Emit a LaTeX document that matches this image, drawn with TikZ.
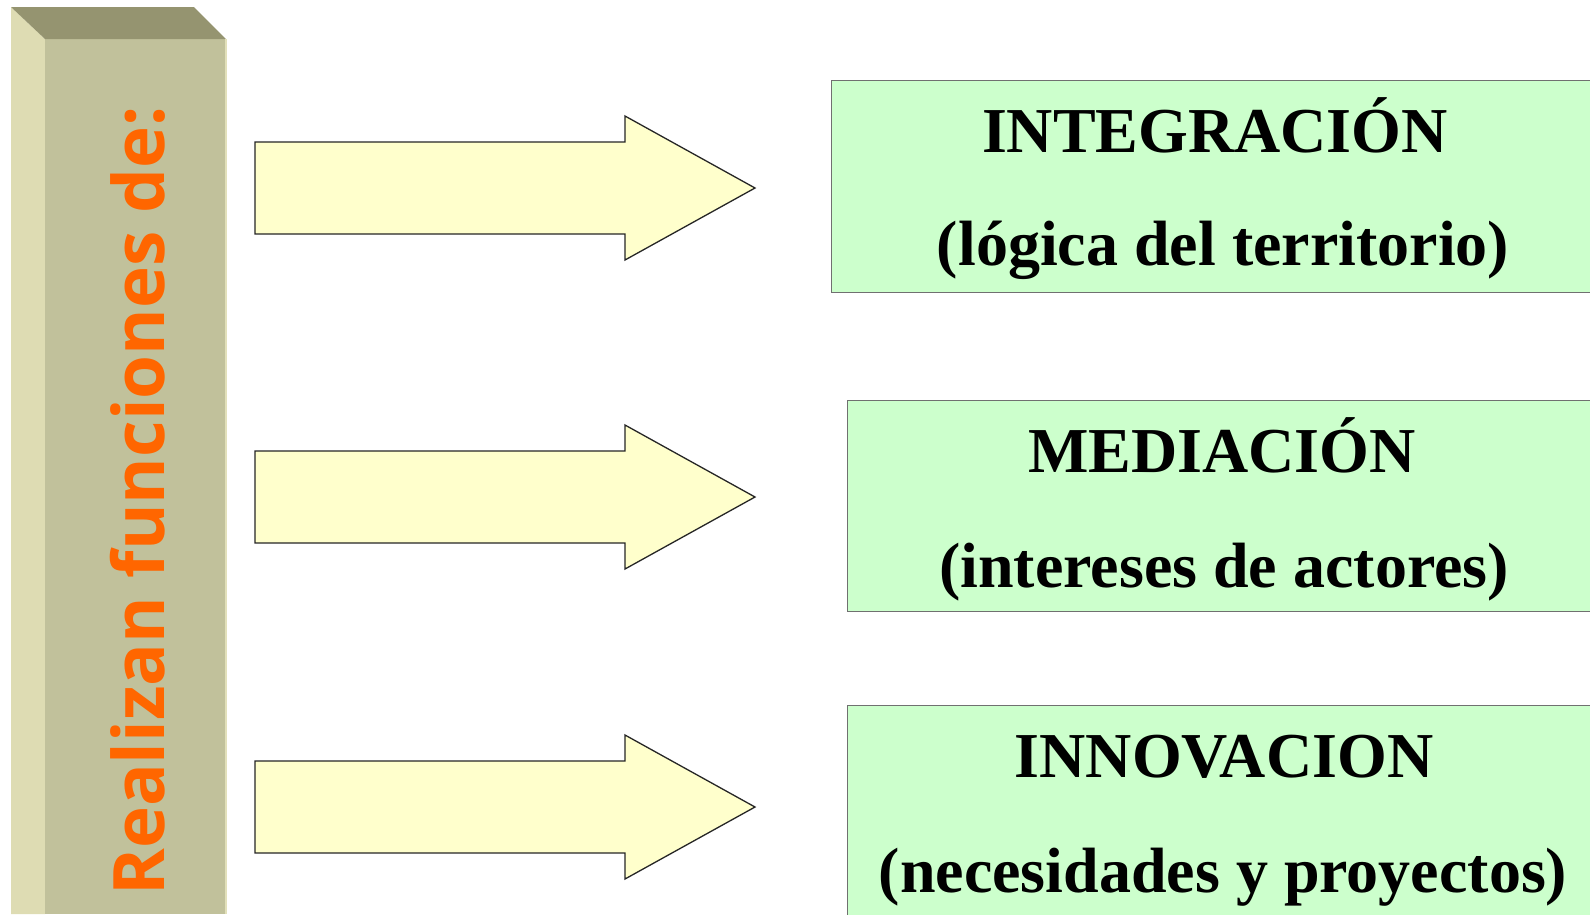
\documentclass[tikz,border=0pt]{standalone}
\usepackage{fontspec}
\setmainfont{Liberation Serif}
\newfontfamily\pillarfont{Open Sans}
\definecolor{topface}{HTML}{959470}
\definecolor{frontface}{HTML}{C1C19B}
\definecolor{sideface}{HTML}{DEDCB3}
\definecolor{edgelight}{HTML}{E2E0BA}
\definecolor{pillartext}{HTML}{FF6600}
\definecolor{arrowfill}{HTML}{FFFFCC}
\definecolor{boxfill}{HTML}{CCFFCC}
\definecolor{boxline}{HTML}{707070}
\tikzset{
  bigarrow/.style={fill=arrowfill, draw=black!85, line width=1.3pt, line join=miter},
  greenbox/.style={fill=boxfill, draw=boxline, line width=1pt},
  boxtext/.style={anchor=base, inner sep=0pt, font=\fontsize{64}{70}\selectfont\bfseries},
}
\begin{document}
\begin{tikzpicture}[x=1pt,y=-1pt]
\useasboundingbox (0,0) rectangle (1590,914);
\fill[white] (0,0) rectangle (1590,914);
% pillar
\fill[sideface] (11,7) -- (45,39) -- (45,914) -- (11,914) -- cycle;
\fill[frontface] (45,39) rectangle (226,914);
\fill[topface] (11,7) -- (194,7) -- (226,39) -- (45,39) -- cycle;
\draw[edgelight, line width=1.2pt] (226,39) -- (226,914);
\node[rotate=90, anchor=base west, inner sep=0pt, text=pillartext,
  font=\pillarfont\fontsize{71}{77}\selectfont\bfseries] (pillar) at (164,896) {Realizan funciones de:};
% arrows
\foreach \n/\c in {1/188, 2/497, 3/807}{
  \draw[bigarrow] (255,\c-46) -- (625,\c-46) -- (625,\c-72) -- (755,\c) -- (625,\c+72) -- (625,\c+46) -- (255,\c+46) -- cycle;
}
% boxes
\draw[greenbox] (831,80) rectangle (1605,292);
\node[boxtext] (t1a) at (1215,152) {INTEGRACIÓN};
\node[boxtext] (t1b) at (1223,265) {(lógica del territorio)};
\draw[greenbox] (847,400.5) rectangle (1610,611.5);
\node[boxtext] (t2a) at (1222,472) {MEDIACIÓN};
\node[boxtext] (t2b) at (1224,587) {(intereses de actores)};
\draw[greenbox] (847,705) rectangle (1610,918);
\node[boxtext] (t3a) at (1224,777) {INNOVACION};
\node[boxtext] (t3b) at (1223,892) {(necesidades y proyectos)};
\end{tikzpicture}
\end{document}
